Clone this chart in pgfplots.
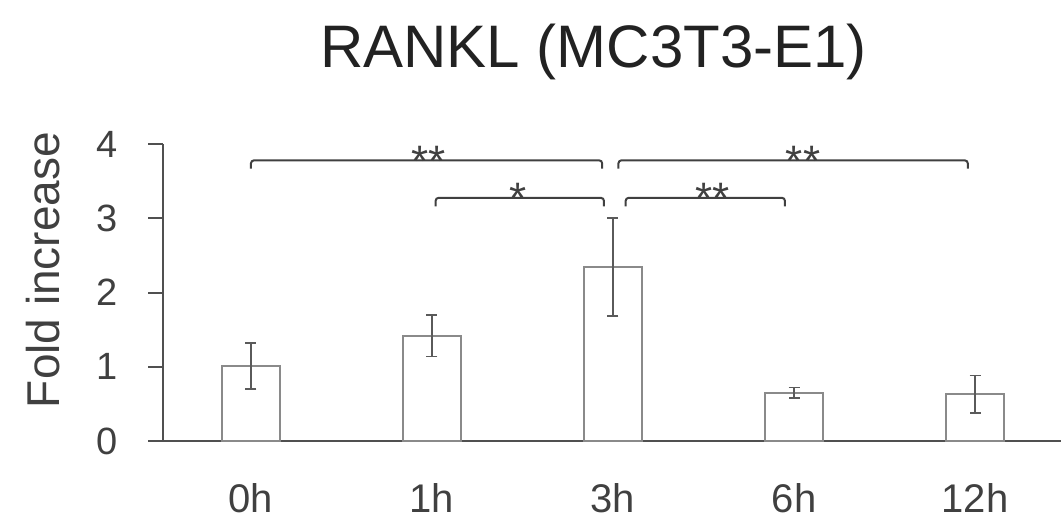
\documentclass[border=0pt]{standalone}
\usepackage{fontspec}
\setmainfont{Liberation Sans}
\usepackage{pgfplots}
\pgfplotsset{compat=1.18}
\definecolor{barc}{HTML}{8A8A8A}
\definecolor{errc}{HTML}{5A5A5A}
\definecolor{axisc}{HTML}{505050}
\definecolor{brc}{HTML}{404040}
\definecolor{textc}{HTML}{404040}
\definecolor{titlec}{HTML}{222222}
\begin{document}
\begin{tikzpicture}[x=1pt,y=1pt]
\useasboundingbox (-81.5pt,-40pt) rectangle (449pt,220.5pt);
\begin{axis}[
  at={(0pt,0pt)}, anchor=south west,
  scale only axis, width=449pt, height=148.5pt,
  xmin=-0.486, xmax=4.475, ymin=0, ymax=4,
  axis lines=left,
  axis line style={-, draw=axisc, line width=1pt},
  xtick={0,1,2,3,4}, xticklabels={0h,1h,3h,6h,12h},
  ytick={0,1,2,3,4},
  x tick style={draw=none},
  y tick style={draw=axisc, line width=1pt},
  tick align=outside, major tick length=7.5pt,
  /pgf/number format/assume math mode=true,
  yticklabel style={font=\fontsize{19}{22}\selectfont, text=textc, anchor=east, inner sep=0pt, xshift=-15pt},
  xticklabel style={font=\fontsize{20}{24}\selectfont, text=textc, anchor=base, inner sep=0pt, yshift=-28pt},
  clip=false,
]
\addplot[ybar, bar width=29pt, fill=white, draw=barc, line width=1pt,
  error bars/.cd, y dir=both, y explicit,
  error bar style={draw=errc, line width=0.8pt},
  error mark options={rotate=90, mark size=2.75pt, draw=errc, line width=0.8pt}]
  coordinates {
    (0,1.01) +- (0,0.31)
    (1,1.42) +- (0,0.28)
    (2,2.34) +- (0,0.66)
    (3,0.65) +- (0,0.07)
    (4,0.63) +- (0,0.25)
  };
% significance brackets
\draw[brc, line width=1pt, rounded corners=1.5pt] (axis cs:0,3.67) -- (axis cs:0,3.78) -- (axis cs:1.94,3.78) -- (axis cs:1.94,3.67);
\draw[brc, line width=1pt, rounded corners=1.5pt] (axis cs:2.03,3.67) -- (axis cs:2.03,3.78) -- (axis cs:3.96,3.78) -- (axis cs:3.96,3.67);
\draw[brc, line width=1pt, rounded corners=1.5pt] (axis cs:1.02,3.16) -- (axis cs:1.02,3.275) -- (axis cs:1.95,3.275) -- (axis cs:1.95,3.16);
\draw[brc, line width=1pt, rounded corners=1.5pt] (axis cs:2.07,3.16) -- (axis cs:2.07,3.275) -- (axis cs:2.95,3.275) -- (axis cs:2.95,3.16);
\node[anchor=base, inner sep=0pt, yshift=-8pt, font=\fontsize{22}{24}\selectfont, text=brc] at (axis cs:0.98,3.78) {**};
\node[anchor=base, inner sep=0pt, yshift=-8pt, font=\fontsize{22}{24}\selectfont, text=brc] at (axis cs:3.05,3.78) {**};
\node[anchor=base, inner sep=0pt, yshift=-8pt, font=\fontsize{22}{24}\selectfont, text=brc] at (axis cs:1.475,3.275) {*};
\node[anchor=base, inner sep=0pt, yshift=-8pt, font=\fontsize{22}{24}\selectfont, text=brc] at (axis cs:2.55,3.275) {**};
\end{axis}
\node[anchor=base, inner sep=0pt, font=\fontsize{30}{34}\selectfont, text=titlec] at (215.25pt,187pt) {RANKL (MC3T3-E1)};
\node[rotate=90, anchor=base, inner sep=0pt, font=\fontsize{23}{28}\selectfont, text=textc] at (-51.5pt,85.5pt) {Fold increase};
\end{tikzpicture}
\end{document}
